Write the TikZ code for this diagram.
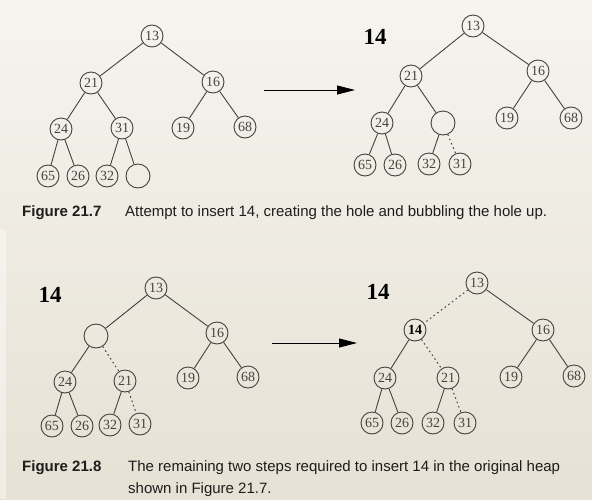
\documentclass[tikz,border=0pt]{standalone}
\usepackage{fontspec}
\setmainfont{Liberation Serif}
\setsansfont{Liberation Sans}
\usetikzlibrary{arrows.meta}
\definecolor{papertop}{HTML}{F6F4EF}
\definecolor{paperbot}{HTML}{E6E1D4}
\definecolor{ink}{HTML}{45423F}
\definecolor{capink}{HTML}{1E1D1C}
\begin{document}
\begin{tikzpicture}[x=1pt,y=-1pt,
  hn/.style={circle,draw=ink,line width=0.9pt,minimum size=22pt,inner sep=0pt,
    font=\fontsize{14}{14}\selectfont,text=ink},
  hole/.style={hn,minimum size=24pt},
  bond/.style={draw=ink,line width=0.9pt},
  moved/.style={draw=ink,line width=1pt,dash pattern=on 1.6pt off 3pt},
  newkey/.style={font=\bfseries\fontsize{23}{24}\selectfont,text=black},
  capbold/.style={font=\sffamily\bfseries\fontsize{15}{17}\selectfont,text=capink,anchor=base west,inner sep=0pt},
  captext/.style={font=\sffamily\fontsize{15}{17}\selectfont,text=capink,anchor=base west,inner sep=0pt},
  steparrow/.style={draw=black,line width=0.9pt,-{Triangle[length=18pt,width=9pt]}}]
\useasboundingbox (0,0) rectangle (592,499);
\shade[top color=papertop,bottom color=paperbot] (0,0) rectangle (592,499);
\fill[white,opacity=0.4] (0,230) rectangle (6,499);

% ---------- Figure 21.7, left: hole at the bottom ----------
\node[hn] (a13) at (152,36) {13};
\node[hn] (a21) at (91,83) {21};
\node[hn] (a16) at (213,82) {16};
\node[hn] (a24) at (61,129) {24};
\node[hn] (a31) at (122,128) {31};
\node[hn] (a19) at (183,128) {19};
\node[hn] (a68) at (245,127) {68};
\node[hn] (a65) at (48,176) {65};
\node[hn] (a26) at (78,176) {26};
\node[hn] (a32) at (107,176) {32};
\node[hole] (ah) at (138,176) {};
\draw[bond] (a13)--(a21) (a13)--(a16) (a21)--(a24) (a21)--(a31)
  (a16)--(a19) (a16)--(a68) (a24)--(a65) (a24)--(a26) (a31)--(a32) (a31)--(ah);

\coordinate (s1) at (264,90);
\coordinate (e1) at (355,90);
\draw[steparrow] (s1)--(e1);

% ---------- Figure 21.7, right: hole moved up ----------
\node[newkey] (k1) at (375,37) {14};
\node[hn] (b13) at (473,26) {13};
\node[hn] (b21) at (411,76) {21};
\node[hn] (b16) at (538,71) {16};
\node[hn] (b24) at (382,123) {24};
\node[hole] (bh) at (443,123) {};
\node[hn] (b19) at (507,118) {19};
\node[hn] (b68) at (571,118) {68};
\node[hn] (b65) at (365,165) {65};
\node[hn] (b26) at (395,165) {26};
\node[hn] (b32) at (429,164) {32};
\node[hn] (b31) at (460,164) {31};
\draw[bond] (b13)--(b21) (b13)--(b16) (b21)--(b24) (b21)--(bh)
  (b16)--(b19) (b16)--(b68) (b24)--(b65) (b24)--(b26) (bh)--(b32);
\draw[moved] (bh)--(b31);

\node[capbold] (cap1a) at (22,216) {Figure 21.7};
\node[captext] (cap1b) at (125,216) {Attempt to insert 14, creating the hole and bubbling the hole up.};

% ---------- Figure 21.8, left: hole one level higher ----------
\node[newkey] (k2) at (50,295) {14};
\node[hn] (c13) at (156,288) {13};
\node[hole] (ch) at (96,336) {};
\node[hn] (c16) at (217,333) {16};
\node[hn] (c24) at (65,382) {24};
\node[hn] (c21) at (125,381) {21};
\node[hn] (c19) at (188,378) {19};
\node[hn] (c68) at (248,377) {68};
\node[hn] (c65) at (52,426) {65};
\node[hn] (c26) at (82,426) {26};
\node[hn] (c32) at (110,425) {32};
\node[hn] (c31) at (140,424) {31};
\draw[bond] (c13)--(ch) (c13)--(c16) (ch)--(c24) (c16)--(c19) (c16)--(c68)
  (c24)--(c65) (c24)--(c26) (c21)--(c32);
\draw[moved] (ch)--(c21) (c21)--(c31);

\coordinate (s2) at (272,343);
\coordinate (e2) at (357,343);
\draw[steparrow] (s2)--(e2);

% ---------- Figure 21.8, right: 14 placed in the hole ----------
\node[newkey] (k3) at (378,292) {14};
\node[hn] (d13) at (477,283) {13};
\node[hn,font=\bfseries\fontsize{14}{14}\selectfont,text=black] (d14) at (415,330) {14};
\node[hn] (d16) at (543,330) {16};
\node[hn] (d24) at (385,378) {24};
\node[hn] (d21) at (448,378) {21};
\node[hn] (d19) at (511,377) {19};
\node[hn] (d68) at (574,376) {68};
\node[hn] (d65) at (372,423) {65};
\node[hn] (d26) at (402,423) {26};
\node[hn] (d32) at (433,423) {32};
\node[hn] (d31) at (465,423) {31};
\draw[bond] (d13)--(d16) (d14)--(d24) (d16)--(d19) (d16)--(d68)
  (d24)--(d65) (d24)--(d26) (d21)--(d32);
\draw[moved] (d13)--(d14) (d14)--(d21) (d21)--(d31);

\node[capbold] (cap2a) at (22,471) {Figure 21.8};
\node[captext] (cap2b) at (128,471) {The remaining two steps required to insert 14 in the original heap};
\node[captext] (cap2c) at (128,493) {shown in Figure 21.7.};
\end{tikzpicture}
\end{document}
